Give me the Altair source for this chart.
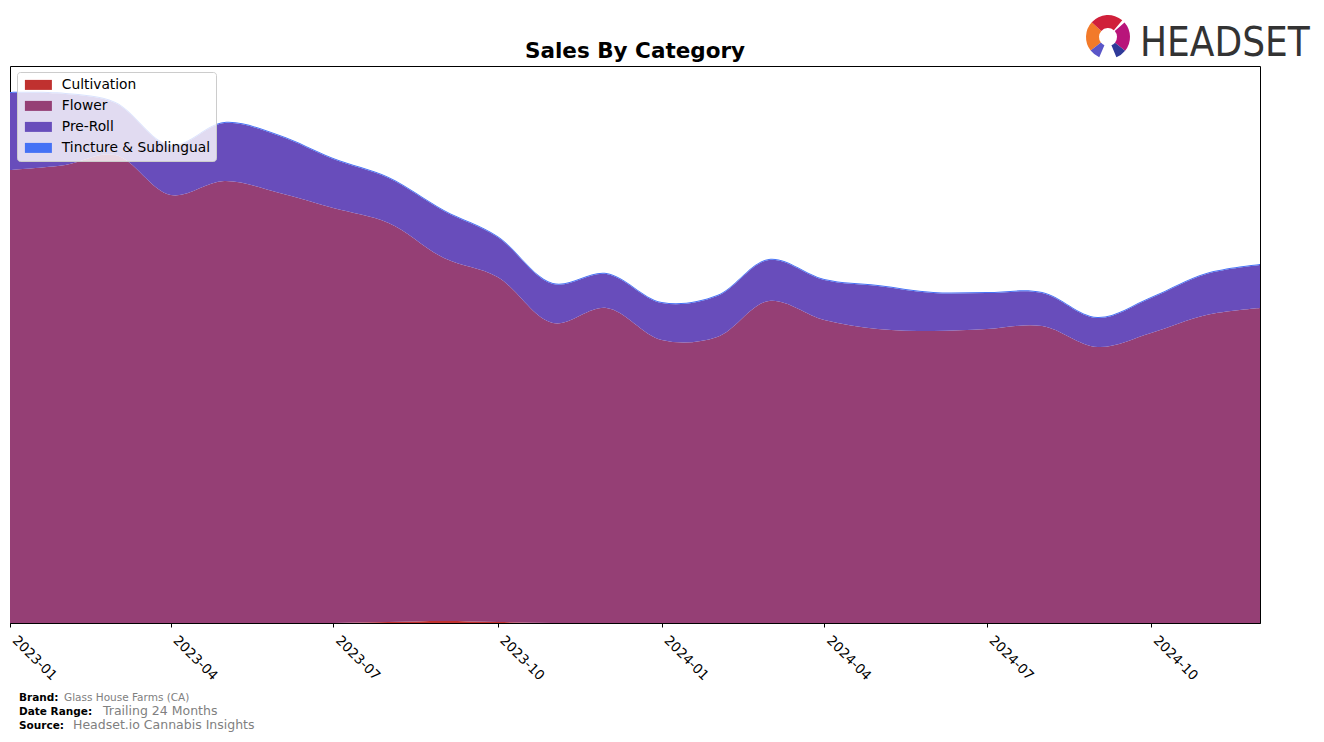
import altair as alt
import pandas as pd

months = ["2023-01", "2023-02", "2023-03", "2023-04", "2023-05", "2023-06",
          "2023-07", "2023-08", "2023-09", "2023-10", "2023-11", "2023-12",
          "2024-01", "2024-02", "2024-03", "2024-04", "2024-05", "2024-06",
          "2024-07", "2024-08", "2024-09", "2024-10", "2024-11", "2024-12"]

cultivation = [0, 0, 0, 0, 0, 0, 0, 1, 2, 1, 0, 0,
               0, 0, 0, 0, 0, 0, 0, 0, 0, 0, 0, 0]
flower = [453, 458, 468, 428, 442, 430, 415, 399, 363, 345, 300, 315,
          283, 286, 322, 303, 294, 292, 294, 297, 276, 290, 308, 315]
preroll = [77, 71, 52, 49, 58, 57, 49, 45, 47, 40, 39, 34,
           37, 41, 41, 40, 43, 38, 36, 33, 29, 35, 41, 43]
tincture = [1] * 24

categories = ["Cultivation", "Flower", "Pre-Roll", "Tincture & Sublingual"]
colors = ["#c0312f", "#953f75", "#684dbb", "#4571f5"]

series = [cultivation, flower, preroll, tincture]
rows = []
for ci, (cat, vals) in enumerate(zip(categories, series)):
    for m, v in zip(months, vals):
        rows.append({"date": m + "-01T00:00:00", "category": cat, "value": v, "order": ci})
df = pd.DataFrame(rows)

tick_dates = [alt.DateTime(year=y, month=mo, date=1)
              for y, mo in [(2023, 1), (2023, 4), (2023, 7), (2023, 10),
                            (2024, 1), (2024, 4), (2024, 7), (2024, 10)]]

area = alt.Chart(df).mark_area(interpolate="catmull-rom").encode(
    x=alt.X("date:T",
            scale=alt.Scale(domain=[alt.DateTime(year=2023, month=1, date=1),
                                    alt.DateTime(year=2024, month=12, date=1)]),
            axis=alt.Axis(format="%Y-%m", values=tick_dates, title=None,
                          labelAngle=45, labelAlign="left", labelBaseline="top",
                          labelFontSize=13.5, labelFont="DejaVu Sans", labelColor="#000000",
                          tickColor="#000000", tickSize=4, domainColor="#000000",
                          labelPadding=6, labelOffset=9, labelFlush=False,
                          labelOverlap=False, grid=False)),
    y=alt.Y("value:Q", stack="zero",
            scale=alt.Scale(domain=[0, 557], nice=False, zero=True),
            axis=None),
    color=alt.Color("category:N",
                    scale=alt.Scale(domain=categories, range=colors),
                    legend=alt.Legend(title=None, orient="none", legendX=7, legendY=6,
                                      symbolType="M-2.7,-1L2.7,-1L2.7,1L-2.7,1Z",
                                      symbolSize=100, symbolOffset=8.5,
                                      symbolStrokeWidth=0, symbolOpacity=1,
                                      labelOffset=16.5, labelFontSize=13.8,
                                      labelFont="DejaVu Sans", labelColor="#000000",
                                      rowPadding=6, padding=6,
                                      fillColor="rgba(255,255,255,0.8)",
                                      strokeColor="#cccccc", cornerRadius=3)),
    order=alt.Order("order:Q", sort="ascending"),
)

one = pd.DataFrame({"k": [0]})

def txt(text, x, y, size, bold=False, color="#000000", font="DejaVu Sans", align="left"):
    return alt.Chart(one).mark_text(
        text=text, align=align, baseline="alphabetic", fontSize=size,
        fontWeight="bold" if bold else "normal", color=color, font=font
    ).encode(x=alt.value(x), y=alt.value(y))

title = txt("Sales By Category", 625, -8, 21.5, bold=True, align="center")

footer = [
    txt("Brand:", 9, 635, 10.5, bold=True),
    txt("Glass House Farms (CA)", 54, 635, 10.5, color="#808080"),
    txt("Date Range:", 9, 649, 10.5, bold=True),
    txt("Trailing 24 Months", 93, 649, 12.5, color="#808080"),
    txt("Source:", 9, 663, 10.5, bold=True),
    txt("Headset.io Cannabis Insights", 63, 663, 12.5, color="#808080"),
]

logo_text = txt("HEADSET", 1130, -10, 40, color="#333333",
                font="DejaVu Sans Condensed, DejaVu Sans")

arc_df = pd.DataFrame({
    "t": [4.05, 5.45, 0.85, 2.25, 3.55],
    "t2": [5.45, 6.99, 2.25, 2.75, 4.05],
    "fillc": ["#f27a2a", "#d0203a", "#b8157a", "#2f3a99", "#5a56c8"],
})
logo_icon = alt.Chart(arc_df).mark_arc(innerRadius=9, outerRadius=22).encode(
    theta=alt.Theta("t:Q", scale=None),
    theta2=alt.Theta2("t2"),
    fill=alt.Fill("fillc:N", scale=None, legend=None),
    x=alt.value(1098),
    y=alt.value(-29),
)

chart = alt.layer(area, title, *footer, logo_text, logo_icon).properties(
    width=1250, height=557,
    autosize=alt.AutoSizeParams(type="none"),
    padding={"left": 10, "top": 66, "right": 64, "bottom": 119},
).configure(
    background="white",
    view=alt.ViewConfig(stroke="#000000", strokeWidth=1),
)

chart.save("out.html", embed_options={"renderer": "svg", "actions": False})
